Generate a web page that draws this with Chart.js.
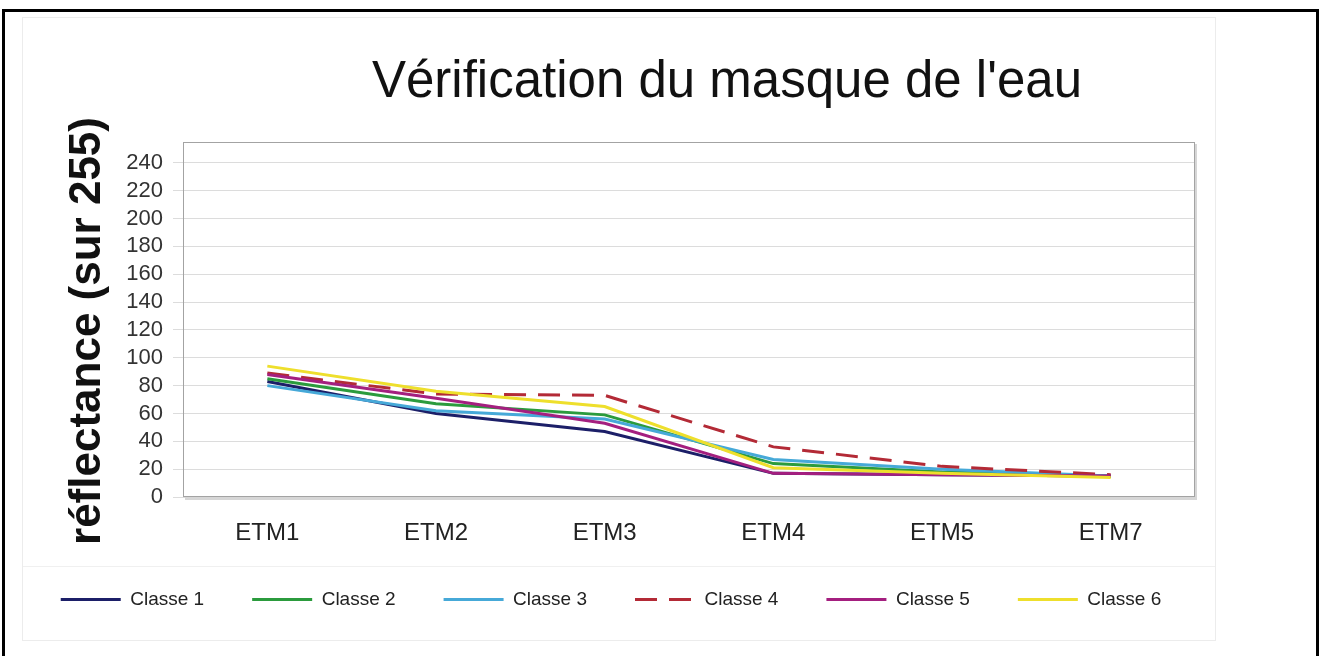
<!DOCTYPE html>
<html>
<head>
<meta charset="utf-8">
<script src="https://cdn.jsdelivr.net/npm/chart.js@4.4.1/dist/chart.umd.min.js"></script>
<style>
  html, body { margin: 0; padding: 0; background: #fff; overflow: hidden; }
  body { width: 1322px; height: 656px; position: relative; }
  #frame { position: absolute; left: 2px; top: 9px; width: 1311px; height: 700px; border: 3px solid #000; }
  #area { position: absolute; left: 22px; top: 17px; width: 1192px; height: 622px; border: 1px solid #ececec; }
  #legendRule { position: absolute; left: 23px; top: 566px; width: 1192px; height: 1px; background: #f0f0f0; }
  #wrap { position: absolute; left: -9px; top: 0; }
</style>
</head>
<body>
<div id="frame"></div>
<div id="area"></div>
<div id="legendRule"></div>
<div id="wrap"><canvas id="chart" width="1240" height="656"></canvas></div>
<script>
const titleText = "Vérification du masque de l'eau";
const yTitleText = "réflectance (sur 255)";
const categories = ["ETM1", "ETM2", "ETM3", "ETM4", "ETM5", "ETM7"];
const seriesNames = ["Classe 1", "Classe 2", "Classe 3", "Classe 4", "Classe 5", "Classe 6"];
const classe1 = [83, 60, 47, 17, 16, 15];
const classe2 = [85, 67, 59, 24, 18, 15];
const classe3 = [80, 62, 56, 27, 20, 15];
const classe4 = [89, 74, 73, 36, 22, 16];
const classe5 = [88, 71, 53, 17, 16, 15];
const classe6 = [94, 76, 65, 21, 17, 14];
const yTickValues = [0, 20, 40, 60, 80, 100, 120, 140, 160, 180, 200, 220, 240];
const yMax = 255;

const seriesValues = [classe1, classe2, classe3, classe4, classe5, classe6];
const colors = ["#1c1f68", "#2b9b3d", "#46a9d8", "#b32a36", "#a41f7f", "#eedf2c"];

Chart.defaults.font.family = '"Liberation Sans", Arial, sans-serif';

// plot frame + titles drawn at the spots they occupy in the original
const chartDecor = {
    id: "chartDecor",
    beforeDatasetsDraw(chart) {
        const { ctx, chartArea: a } = chart;
        ctx.save();
        ctx.fillStyle = "#d6d6d6";
        ctx.fillRect(a.left + 2, a.bottom, a.right - a.left, 3);
        ctx.fillRect(a.right, a.top + 2, 2, a.bottom - a.top);
        ctx.strokeStyle = "#a3a3a3";
        ctx.lineWidth = 1;
        ctx.strokeRect(a.left + 0.5, a.top + 0.5, a.right - a.left - 1, a.bottom - a.top - 1);
        ctx.restore();
    },
    afterDraw(chart) {
        const ctx = chart.ctx;
        ctx.save();
        ctx.fillStyle = "#111";
        ctx.textAlign = "center";
        ctx.textBaseline = "alphabetic";
        ctx.font = '51px "Liberation Sans", Arial, sans-serif';
        ctx.fillText(titleText, 736, 97);
        ctx.translate(109, 331);
        ctx.rotate(-Math.PI / 2);
        ctx.font = 'bold 44px "Liberation Sans", Arial, sans-serif';
        ctx.fillText(yTitleText, 0, 0);
        ctx.restore();
    },
};

const datasets = seriesNames.map((name, i) => ({
    label: name,
    data: seriesValues[i],
    borderColor: colors[i],
    backgroundColor: colors[i],
    borderWidth: 3,
    borderDash: i === 3 ? [22, 12] : [],
    pointRadius: 0,
    tension: 0,
    order: seriesNames.length - i,
    yAxisID: "y",
}));

new Chart(document.getElementById("chart").getContext("2d"), {
    type: "line",
    data: { labels: categories, datasets },
    plugins: [chartDecor],
    options: {
        responsive: false,
        animation: false,
        layout: { padding: { top: 142, left: 0, right: 0, bottom: 37 } },
        scales: {
            x: {
                offset: true,
                grid: { display: false, drawTicks: false },
                border: { display: false },
                ticks: { color: "#222", font: { size: 24 }, padding: 22, maxRotation: 0 },
                afterFit: (s) => { s.height = 45; },
            },
            y: {
                min: 0,
                max: yMax,
                grid: { color: "#dcdcdc", tickLength: 10 },
                border: { display: false },
                ticks: { color: "#333", font: { size: 22 }, padding: 10, autoSkip: false },
                afterBuildTicks: (s) => { s.ticks = yTickValues.map(v => ({ value: v })); },
                afterFit: (s) => { s.width = 192; },
            },
            yRight: {
                position: "right",
                grid: { display: false },
                border: { display: false },
                ticks: { display: false },
                afterFit: (s) => { s.width = 36; },
            },
        },
        plugins: {
            title: { display: false },
            tooltip: { enabled: false },
            legend: {
                position: "bottom",
                labels: {
                    usePointStyle: true,
                    pointStyle: "line",
                    pointStyleWidth: 60,
                    padding: 48,
                    color: "#222",
                    font: { size: 19 },
                    sort: (a, b) => a.datasetIndex - b.datasetIndex,
                    generateLabels: (chart) =>
                        Chart.defaults.plugins.legend.labels.generateLabels(chart).map(item => ({
                            ...item,
                            lineDash: chart.data.datasets[item.datasetIndex].borderDash,
                        })),
                },
            },
        },
    },
});
</script>
</body>
</html>
